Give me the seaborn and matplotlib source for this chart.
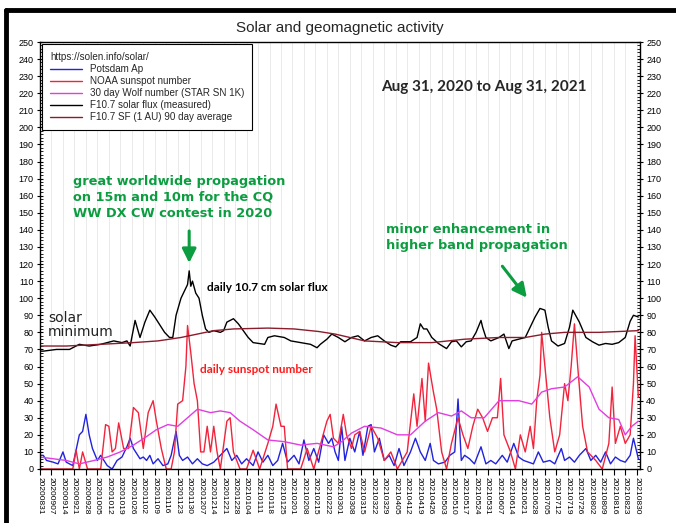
import matplotlib
matplotlib.use("Agg")
import matplotlib.pyplot as plt
import matplotlib.dates as mdates
from matplotlib.ticker import MultipleLocator
from matplotlib.lines import Line2D
import pandas as pd
import seaborn as sns

start = pd.Timestamp("2020-08-31")

# days after Aug 31, 2020 and values
flux_days = [0, 2, 10, 18, 24, 30, 37, 45, 50, 53,
             55, 58, 61, 64, 67, 70, 72, 76, 79, 81,
             83, 86, 88, 90, 91, 92, 93, 95, 97, 99,
             101, 103, 106, 110, 112, 114, 118, 121, 124, 127,
             130, 137, 139, 143, 149, 153, 159, 165, 169, 171,
             175, 178, 182, 186, 190, 194, 198, 202, 206, 210,
             214, 217, 220, 226, 230, 232, 234, 236, 239, 243,
             248, 251, 254, 257, 260, 263, 266, 269, 270, 272,
             275, 280, 283, 286, 288, 292, 296, 299, 302, 305,
             308, 310, 312, 316, 320, 323, 325, 329, 333, 337,
             341, 345, 349, 353, 357, 360, 362, 365]
flux_vals = [69, 69, 70, 70, 73, 72, 73, 75, 74, 75,
             72, 87, 77, 86, 93, 89, 86, 80, 77, 77,
             90, 100, 104, 108, 116, 107, 110, 103, 100, 90,
             82, 80, 81, 80, 81, 86, 88, 85, 81, 77,
             74, 73, 77, 78, 77, 75, 74, 73, 71, 73,
             76, 79, 77, 74.5, 77, 78, 75, 77, 78, 75,
             72.5, 71.5, 74.5, 74.5, 77, 85, 82, 82, 77, 73.5,
             70.5, 74.5, 75, 71.5, 74.5, 75, 80, 87, 83, 77,
             75, 77, 79, 70.5, 75, 76, 77, 83, 89, 94,
             93, 83, 75, 72, 73.5, 83, 93, 86, 77, 74.5,
             72.5, 73.5, 73, 74, 77, 86.5, 90, 89]

avg_days = [0, 16, 37, 57, 72, 86, 96, 106, 118, 139, 155, 170,
            180, 198, 218, 239, 259, 280, 296, 308, 320, 341, 365]
avg_vals = [72, 72, 73, 74, 75, 77, 79, 81, 82, 82.5, 82, 80.5,
            79, 75, 74, 74, 76, 77, 77, 79, 80, 80, 81]

wolf_days = [0, 16, 24, 33, 41, 49, 57, 65, 71, 78,
             84, 90, 96, 104, 110, 116, 122, 130, 139, 149,
             159, 169, 179, 184, 190, 198, 208, 218, 226, 235,
             243, 251, 257, 263, 271, 280, 292, 300, 306, 312,
             320, 328, 335, 341, 347, 353, 357, 361, 365]
wolf_vals = [7, 5, 3, 5, 7, 10, 14, 19, 23, 26,
             25, 30, 35, 33, 34, 33, 28, 23, 17, 16,
             14, 15, 13, 16, 21, 25, 24, 20, 20, 28,
             33, 31, 34, 30, 30, 40, 40, 38, 45, 47,
             48, 54, 48, 35, 30, 29, 20, 25, 28]

ssn_days = [0, 5, 10, 15, 20, 22, 24, 26, 29, 34,
            37, 40, 42, 44, 46, 48, 51, 54, 57, 60,
            63, 66, 69, 71, 74, 77, 80, 82, 84, 87,
            89, 90, 92, 94, 96, 98, 100, 102, 104, 106,
            108, 110, 114, 116, 118, 122, 126, 130, 134, 139,
            142, 144, 147, 149, 151, 155, 159, 163, 167, 171,
            175, 177, 179, 182, 185, 187, 190, 192, 195, 198,
            202, 206, 210, 214, 218, 224, 228, 230, 233, 235,
            237, 240, 242, 245, 248, 251, 255, 258, 261, 264,
            267, 270, 273, 276, 279, 281, 283, 287, 290, 293,
            296, 299, 301, 303, 305, 306, 309, 311, 314, 317,
            320, 322, 324, 326, 328, 331, 334, 339, 343, 347,
            349, 351, 354, 357, 360, 362, 363, 365]
ssn_vals = [0, 0, 0, 0, 0, 11, 0, 10, 0, 0,
            0, 26, 25, 10, 12, 27, 12, 12, 36, 33,
            12, 33, 40, 28, 12, 0, 0, 10, 38, 40,
            60, 84, 68, 50, 40, 10, 10, 25, 10, 25,
            10, 0, 28, 30, 10, 0, 0, 11, 0, 15,
            25, 38, 25, 25, 0, 0, 0, 12, 0, 14,
            28, 32, 18, 15, 32, 20, 12, 20, 22, 10,
            25, 18, 5, 10, 0, 10, 44, 25, 53, 28,
            62, 45, 35, 10, 0, 15, 30, 20, 12, 25,
            35, 30, 22, 30, 30, 53, 20, 10, 0, 20,
            10, 25, 12, 40, 55, 80, 50, 30, 10, 20,
            50, 40, 60, 85, 60, 25, 10, 5, 0, 15,
            48, 15, 25, 15, 20, 50, 78, 42]

ap_days = [0, 2, 4, 8, 11, 14, 16, 20, 24, 26,
           28, 30, 32, 35, 37, 41, 44, 47, 50, 53,
           55, 57, 59, 61, 63, 65, 67, 69, 72, 75,
           78, 80, 83, 85, 87, 90, 93, 96, 99, 102,
           106, 110, 114, 117, 120, 123, 126, 130, 133, 136,
           139, 142, 145, 148, 151, 155, 158, 161, 164, 167,
           170, 173, 176, 178, 180, 182, 184, 186, 189, 192,
           195, 197, 200, 202, 204, 207, 210, 213, 216, 219,
           222, 226, 229, 232, 235, 238, 240, 243, 247, 250,
           253, 255, 257, 259, 262, 265, 269, 272, 275, 278,
           282, 285, 289, 292, 295, 298, 301, 304, 307, 311,
           314, 318, 320, 323, 326, 329, 333, 336, 339, 342,
           345, 348, 351, 354, 357, 360, 362, 364, 365]
ap_vals = [8, 8, 5, 4, 3, 10, 4, 2, 20, 22,
           32, 20, 12, 5, 8, 2, 0, 5, 7, 13,
           18, 12, 9, 6, 7, 5, 8, 3, 6, 2,
           3, 8, 22, 8, 5, 7, 3, 6, 3, 2,
           4, 8, 12, 5, 8, 3, 6, 2, 10, 4,
           8, 2, 5, 15, 4, 8, 3, 17, 5, 12,
           4, 20, 15, 18, 10, 5, 25, 5, 18, 10,
           22, 8, 25, 26, 10, 18, 5, 8, 2, 12,
           2, 10, 18, 10, 5, 15, 5, 3, 4, 8,
           10, 41, 5, 8, 6, 3, 13, 3, 5, 3,
           8, 4, 15, 7, 5, 4, 3, 10, 4, 5,
           3, 12, 5, 7, 4, 8, 12, 5, 8, 4,
           10, 3, 7, 5, 4, 8, 18, 10, 6]

GREEN = "#0b9d40"


def to_dates(days):
    return start + pd.to_timedelta(days, unit="D")


def dnum(day):
    return mdates.date2num(start + pd.Timedelta(days=day))


sns.set_theme(style="white")
plt.rcParams["font.family"] = ["Liberation Sans", "DejaVu Sans"]

fig, ax = plt.subplots(figsize=(6.76, 5.23), dpi=100)
fig.subplots_adjust(left=40 / 676, right=640 / 676, bottom=(523 - 469) / 523, top=(523 - 42) / 523)

series = [
    ("Potsdam Ap", ap_days, ap_vals, "#2222dd"),
    ("NOAA sunspot number", ssn_days, ssn_vals, "#f2243c"),
    ("30 day Wolf number (STAR SN 1K)", wolf_days, wolf_vals, "#e03ee0"),
    ("F10.7 solar flux (measured)", flux_days, flux_vals, "black"),
    ("F10.7 SF (1 AU) 90 day average", avg_days, avg_vals, "#8b1c2c"),
]
for label, d, v, c in series:
    sns.lineplot(x=to_dates(d), y=v, color=c, lw=1.0, label=label, ax=ax)

ax.set_xlim(start, start + pd.Timedelta(days=366))
ax.set_ylim(0, 250)
ax.yaxis.set_major_locator(MultipleLocator(10))
ax.yaxis.set_minor_locator(MultipleLocator(2))
ax.xaxis.set_major_locator(mdates.WeekdayLocator(byweekday=mdates.MO))
ax.xaxis.set_major_formatter(mdates.DateFormatter("%Y%m%d"))
ax.set_xlabel("")
ax.set_ylabel("")

ax.tick_params(axis="x", which="major", rotation=-90, labelsize=6, length=4, width=0.8,
               direction="out", bottom=True, pad=2, colors="black")
ax.tick_params(axis="y", which="major", left=True, right=True, labelleft=True, labelright=True,
               labelsize=6.5, length=5, width=0.8, direction="inout", pad=2, colors="black")
ax.tick_params(axis="y", which="minor", left=True, right=True, length=2.5, width=0.6,
               direction="in", colors="black")
for sp in ax.spines.values():
    sp.set_color("black")
    sp.set_linewidth(1.0)
ax.grid(True, axis="x", color="#e6e6e6", lw=0.6)

ax.set_title("Solar and geomagnetic activity", fontsize=11, pad=7)

leg = ax.legend(title="https://solen.info/solar/", loc="upper left", bbox_to_anchor=(0.0, 1.0),
                borderaxespad=0.25, fontsize=7.1, title_fontsize=7.1, frameon=True, fancybox=False,
                edgecolor="black", framealpha=1, handlelength=3.2, labelspacing=0.2,
                borderpad=0.8, alignment="left")
leg.get_frame().set_linewidth(0.8)

ax.text(0.739, 0.895, "Aug 31, 2020 to Aug 31, 2021", transform=ax.transAxes, ha="center",
        va="center", fontsize=11, fontweight="bold", family="Lato")
ax.text(0.055, 0.637, "great worldwide propagation\non 15m and 10m for the CQ\nWW DX CW contest in 2020",
        transform=ax.transAxes, ha="left", va="center", fontsize=9.3, fontweight="bold",
        family="DejaVu Sans", color=GREEN, linespacing=1.3)
ax.text(0.576, 0.541, "minor enhancement in\nhigher band propagation", transform=ax.transAxes,
        ha="left", va="center", fontsize=9.3, fontweight="bold", family="DejaVu Sans",
        color=GREEN, linespacing=1.3)
ax.text(0.279, 0.426, "daily 10.7 cm solar flux", transform=ax.transAxes, ha="left", va="center",
        fontsize=8.5, fontweight="bold", family="Lato", color="black")
ax.text(0.266, 0.234, "daily sunspot number", transform=ax.transAxes, ha="left", va="center",
        fontsize=8.5, fontweight="bold", family="Lato", color="#ff1a1a")
ax.text(0.013, 0.337, "solar\nminimum", transform=ax.transAxes, ha="left", va="center",
        fontsize=10, family="DejaVu Sans", color="#222222", linespacing=1.0)

arrow = dict(arrowstyle="-|>,head_width=0.35,head_length=0.7", color=GREEN, lw=2.2)
ax.annotate("", xy=(dnum(91), 119), xytext=(dnum(91), 141), arrowprops=arrow)
ax.annotate("", xy=(dnum(298), 99), xytext=(dnum(281), 120), arrowprops=arrow)

# thick black frame on the left and top of the screenshot
fig.add_artist(Line2D([6 / 676, 6 / 676], [0, (523 - 10) / 523], transform=fig.transFigure,
                      color="black", lw=3.5))
fig.add_artist(Line2D([6 / 676, 1], [(523 - 10) / 523] * 2, transform=fig.transFigure,
                      color="black", lw=3.5))

fig.savefig("out.png", dpi=100)
